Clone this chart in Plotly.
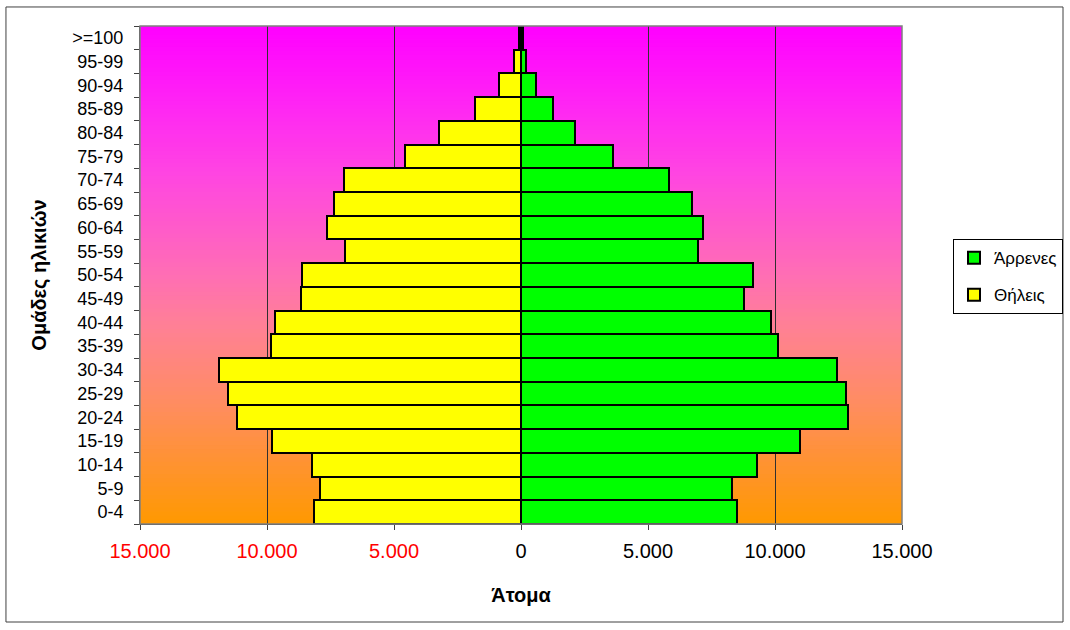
import plotly.graph_objects as go

# Age groups, youngest first (bottom of the pyramid)
age_groups = ["0-4", "5-9", "10-14", "15-19", "20-24", "25-29", "30-34",
              "35-39", "40-44", "45-49", "50-54", "55-59", "60-64", "65-69",
              "70-74", "75-79", "80-84", "85-89", "90-94", "95-99", ">=100"]

males = [8490, 8310, 9280, 10980, 12870, 12780, 12430,
         10100, 9840, 8780, 9130, 6980, 7150, 6750,
         5830, 3630, 2130, 1270, 590, 190, 90]

females = [8140, 7910, 8220, 9800, 11170, 11520, 11900,
           9860, 9700, 8650, 8610, 6920, 7650, 7360,
           6970, 4570, 3210, 1810, 850, 260, 80]

tick_vals = [-15000, -10000, -5000, 0, 5000, 10000, 15000]
tick_text = ['<span style="color:#FF0000">15.000</span>',
             '<span style="color:#FF0000">10.000</span>',
             '<span style="color:#FF0000">5.000</span>',
             "0", "5.000", "10.000", "15.000"]

FONT = "Arial, Liberation Sans, sans-serif"

fig = go.Figure()
fig.add_trace(go.Bar(
    y=age_groups, x=males, orientation="h", name="Άρρενες", legendgroup="m",
    marker=dict(color="#00FF00", line=dict(color="#000000", width=2)),
))
fig.add_trace(go.Bar(
    y=age_groups, x=[-v for v in females], orientation="h", name="Θήλεις",
    legendgroup="f",
    customdata=females, hovertemplate="%{y}: %{customdata}<extra>Θήλεις</extra>",
    marker=dict(color="#FFFF00", line=dict(color="#000000", width=2)),
))

# Vertical magenta-to-orange gradient behind the plot area
stops = [(0.0, (255, 153, 0)), (0.25, (255, 140, 100)), (0.4, (255, 128, 150)),
         (0.5, (255, 110, 180)), (0.7, (255, 70, 225)), (0.85, (255, 35, 245)),
         (1.0, (255, 0, 255))]


def grad_color(t):
    for (t0, c0), (t1, c1) in zip(stops[:-1], stops[1:]):
        if t0 <= t <= t1:
            f = (t - t0) / (t1 - t0)
            return "rgb(%d,%d,%d)" % tuple(round(a + (b - a) * f) for a, b in zip(c0, c1))
    return "rgb(%d,%d,%d)" % stops[-1][1]


n = 120
shapes = []
for i in range(n):
    t = (i + 0.5) / n
    shapes.append(dict(
        type="rect", xref="x domain", yref="y domain", layer="below",
        x0=0, x1=1, y0=i / n, y1=min(1, (i + 1.6) / n),
        fillcolor=grad_color(t), line=dict(width=0),
    ))

# Plot-area frame
shapes.append(dict(type="rect", xref="x domain", yref="y domain", layer="above",
                   x0=0, x1=1, y0=0, y1=1, line=dict(color="#808080", width=1.5)))
# Outer chart border
shapes.append(dict(type="rect", xref="paper", yref="paper", layer="above",
                   x0=-0.1759, x1=1.2113, y0=-0.1968, y1=1.0382,
                   line=dict(color="#404040", width=1)))

fig.update_layout(
    width=1070, height=630,
    margin=dict(l=140, r=168, t=26, b=106, autoexpand=False),
    paper_bgcolor="white",
    plot_bgcolor="rgba(0,0,0,0)",
    barmode="overlay",
    bargap=0,
    shapes=shapes,
    font=dict(family=FONT, color="#000000"),
    showlegend=True,
    legend=dict(
        x=1.2113, y=0.572, xanchor="right", yanchor="top",
        bgcolor="white", bordercolor="#000000", borderwidth=1,
        font=dict(size=17, family=FONT), traceorder="grouped",
        itemwidth=30, tracegroupgap=12,
    ),
)

fig.update_xaxes(
    range=[-15000, 15000],
    tickvals=tick_vals, ticktext=tick_text,
    tickfont=dict(size=20, family=FONT),
    ticks="outside", ticklen=5, tickcolor="#404040",
    ticklabelstandoff=4,
    showgrid=True, gridcolor="#303030", gridwidth=1,
    zeroline=False,
    showline=True, linecolor="#404040", linewidth=1,
    title=dict(text="<b>Άτομα</b>", font=dict(size=20, family=FONT), standoff=26),
    fixedrange=True,
)
fig.update_yaxes(
    type="category", categoryorder="array", categoryarray=age_groups,
    tickfont=dict(size=18, family=FONT),
    ticks="outside", ticklen=5, tickcolor="#404040", tickson="boundaries",
    ticklabelstandoff=12,
    showgrid=False, zeroline=False,
    showline=True, linecolor="#404040", linewidth=1,
    title=dict(text="<b>Ομάδες ηλικιών</b>", font=dict(size=20, family=FONT), standoff=20),
    fixedrange=True,
)

fig.write_html("out.html")
